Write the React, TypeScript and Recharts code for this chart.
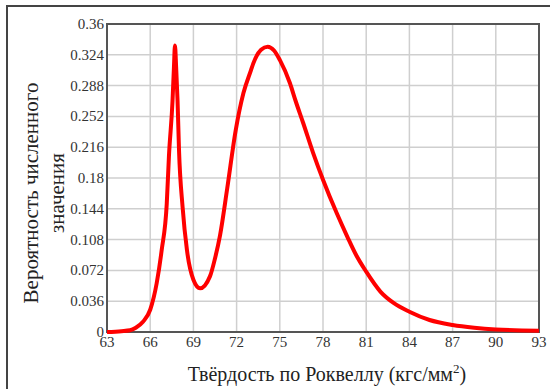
import React from 'react';
import { LineChart, Line, XAxis, YAxis, CartesianGrid, ReferenceArea } from 'recharts';

// ─── Data ────────────────────────────────────────────────────────────────────

const hardness = [
  63, 64, 64.6, 65, 65.5, 66, 66.45, 66.8, 67.15, 67.3, 67.55, 67.65, 67.72,
  67.8, 67.9, 68.0, 68.25, 68.55, 69.0, 69.46, 70.15, 70.5, 70.85, 71.35, 71.94,
  72.47, 73.0, 73.16, 73.7, 74.16, 74.6, 75.0, 75.7, 76.1, 76.63, 77.3, 78.0, 78.95, 79.7,
  80.3, 81.0, 82.0, 82.9, 84.0, 85.4, 87.0, 88.5, 90.0, 93.0,
];

const probability = [
  0.0, 0.001, 0.002, 0.005, 0.012, 0.026, 0.057, 0.096, 0.15, 0.205, 0.27, 0.31, 0.335,
  0.31, 0.27, 0.213, 0.146, 0.096, 0.061, 0.051, 0.065, 0.086, 0.113, 0.168, 0.236,
  0.279, 0.306, 0.314, 0.33, 0.3335, 0.329, 0.318, 0.291, 0.27, 0.244, 0.21, 0.178, 0.139, 0.111,
  0.09, 0.0705, 0.047, 0.034, 0.0237, 0.014, 0.0082, 0.005, 0.003, 0.0015,
];

const xTicks = [63, 66, 69, 72, 75, 78, 81, 84, 87, 90, 93];
const yTicks = [0, 0.036, 0.072, 0.108, 0.144, 0.18, 0.216, 0.252, 0.288, 0.324, 0.36];

const data = hardness.map((h, i) => ({ h, p: probability[i] }));

// ─── Styles ──────────────────────────────────────────────────────────────────

const SERIF = '"Liberation Serif", "Times New Roman", serif';
const TICK_STYLE = { fontFamily: SERIF, fontSize: 15 };

function XTick({ x, y, payload }: any) {
  return (
    <text x={x} y={y + 15} textAnchor="middle" fill="#333" style={TICK_STYLE}>
      {payload.value}
    </text>
  );
}

function YTick({ x, y, payload }: any) {
  return (
    <text x={x} y={y + 5} textAnchor="end" fill="#333" style={TICK_STYLE}>
      {payload.value}
    </text>
  );
}

export default function App() {
  return (
    <div style={{ position: 'absolute', left: 0, top: 0, width: 550, height: 389, overflow: 'hidden', background: '#fff' }}>
      {/* outer frame */}
      <div style={{ position: 'absolute', left: 6, top: 5, width: 700, height: 600, border: '2px solid #444' }} />

      <LineChart
        width={550}
        height={389}
        data={data}
        margin={{ top: 24, right: 11, left: 47, bottom: 37 }}
        style={{ position: 'absolute', left: 0, top: 0, fontFamily: SERIF }}
      >
        <CartesianGrid stroke="#cfcfcf" strokeWidth={1.5} />
        <XAxis
          dataKey="h"
          type="number"
          domain={[63, 93]}
          ticks={xTicks}
          interval={0}
          height={20}
          tick={<XTick />}
          tickLine={false}
          tickSize={0}
          tickMargin={0}
          axisLine={false}
        />
        <YAxis
          type="number"
          domain={[0, 0.36]}
          ticks={yTicks}
          interval={0}
          width={60}
          tick={<YTick />}
          tickLine={false}
          tickSize={0}
          tickMargin={3}
          axisLine={false}
        />
        <Line
          type="monotone"
          dataKey="p"
          stroke="#ff0000"
          strokeWidth={4}
          dot={false}
          isAnimationActive={false}
        />
        <ReferenceArea x1={63} x2={93} y1={0} y2={0.36} fill="none" stroke="#555" strokeWidth={2} ifOverflow="visible" />
      </LineChart>

      {/* y-axis title */}
      <div
        style={{
          position: 'absolute', left: 44, top: 193, width: 300, transform: 'translate(-50%, -50%) rotate(-90deg)',
          textAlign: 'center', fontFamily: SERIF, fontSize: 21, lineHeight: '26px', color: '#222',
        }}
      >
        Вероятность численного<br />значения
      </div>

      {/* x-axis title */}
      <div
        style={{
          position: 'absolute', left: 327, top: 361, transform: 'translateX(-50%)', whiteSpace: 'nowrap',
          fontFamily: SERIF, fontSize: 20, color: '#222',
        }}
      >
        Твёрдость по Роквеллу (кгс/мм<sup style={{ fontSize: 13 }}>2</sup>)
      </div>
    </div>
  );
}
